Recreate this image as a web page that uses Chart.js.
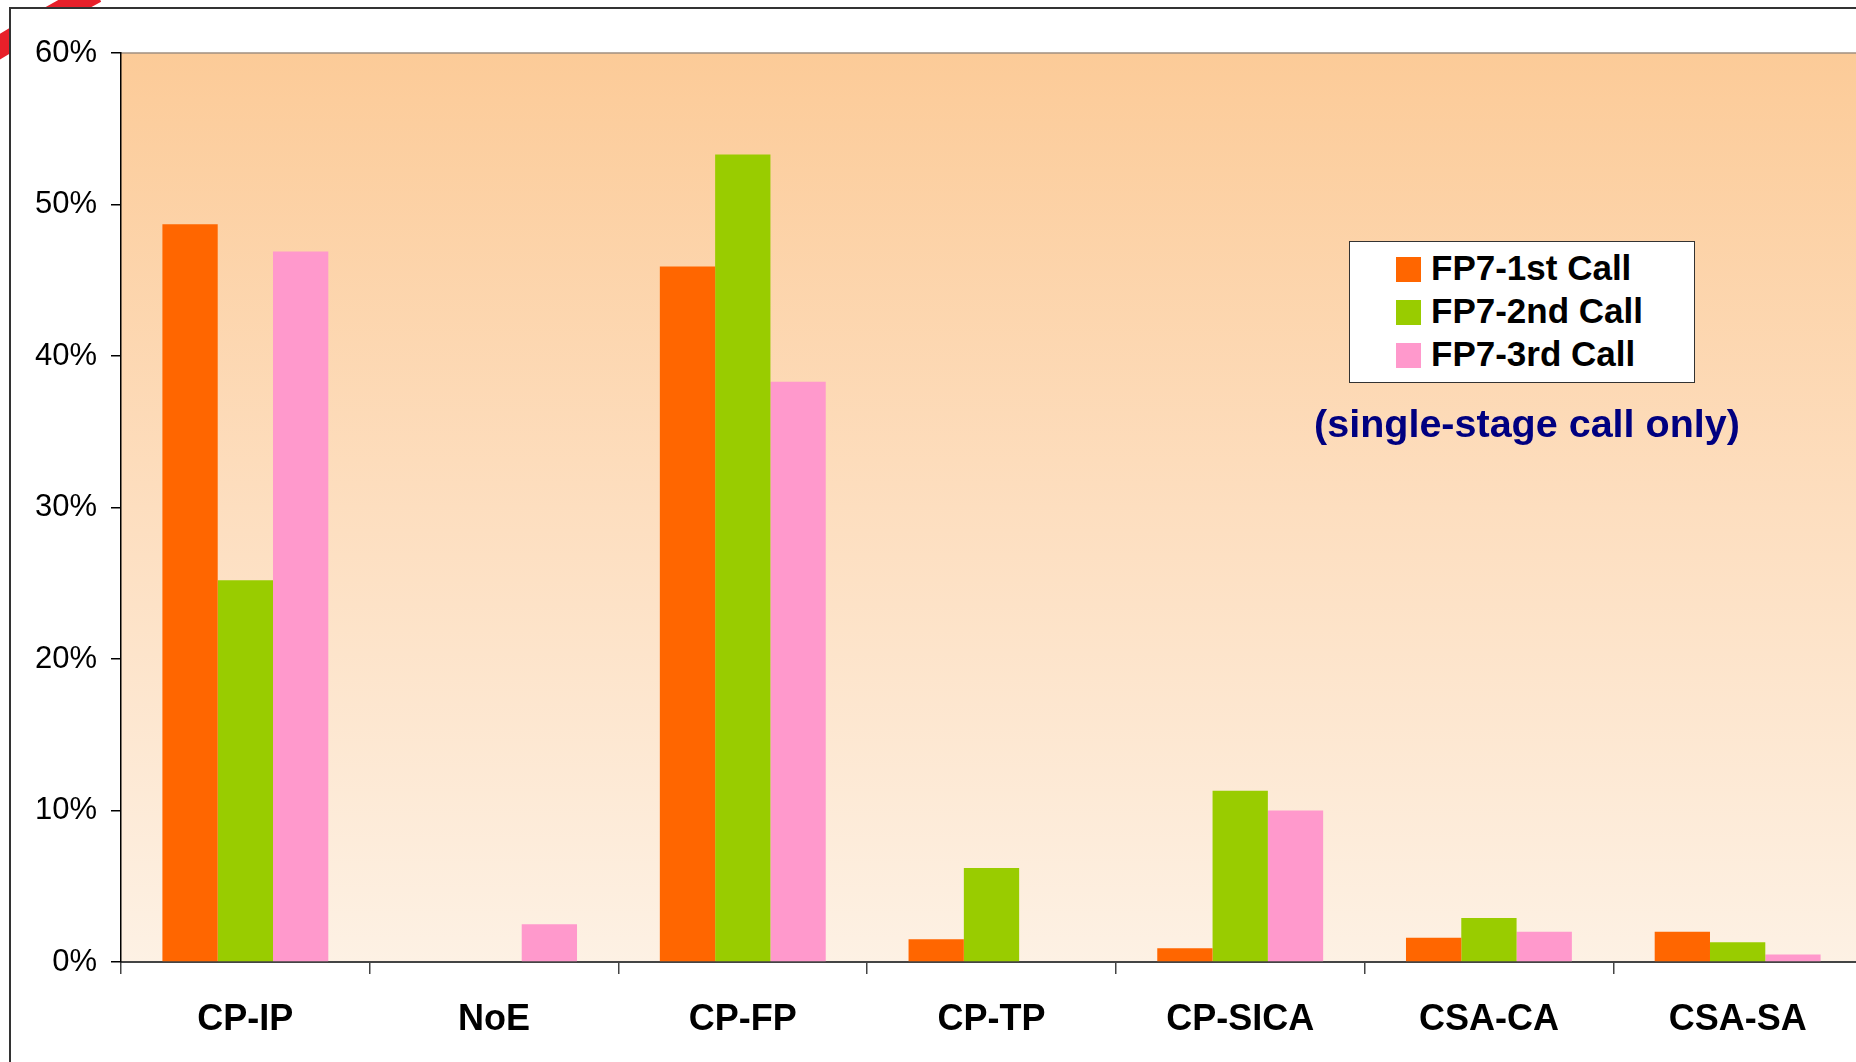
<!DOCTYPE html>
<html>
<head>
  <meta charset="utf-8" />
  <title>FP7 calls - funding scheme share</title>
  <script src="https://cdn.jsdelivr.net/npm/chart.js"></script>
  <style>
    html, body {
      margin: 0;
      padding: 0;
      width: 1856px;
      height: 1062px;
      overflow: hidden;
      background: #ffffff;
      font-family: "Liberation Sans", Arial, sans-serif;
    }
    #corner {
      position: absolute;
      left: 0;
      top: 0;
    }
    #frame {
      position: absolute;
      left: 9px;
      top: 7px;
      width: 1900px;
      height: 1100px;
      background: #ffffff;
      border-left: 2px solid #333;
      border-top: 2px solid #333;
    }
    #chart-wrap {
      position: absolute;
      left: 0;
      top: 0;
      width: 1862px;
      height: 1062px;
    }
    #legend {
      position: absolute;
      left: 1349px;
      top: 241px;
      width: 344px;
      height: 136px;
      background: #ffffff;
      border: 1.5px solid #333;
      padding-top: 4px;
      box-sizing: content-box;
    }
    #legend .item {
      height: 43px;
      line-height: 43px;
      font-weight: bold;
      font-size: 35px;
      color: #000;
      white-space: nowrap;
    }
    #legend .swatch {
      display: inline-block;
      width: 25px;
      height: 25px;
      margin-left: 46px;
      margin-right: 10px;
      vertical-align: -2px;
    }
    #note {
      position: absolute;
      left: 1227px;
      width: 600px;
      top: 401px;
      text-align: center;
      font-weight: bold;
      font-size: 39.5px;
      color: #000080;
      white-space: nowrap;
    }
  </style>
</head>
<body>
  <svg id="corner" width="120" height="80">
    <path d="M -12 54 Q 36 24 96 -8" stroke="#e8202a" stroke-width="22" fill="none" />
  </svg>
  <div id="frame"></div>
  <div id="chart-wrap">
    <canvas id="chart" width="1862" height="1062"></canvas>
  </div>
  <div id="legend"></div>
  <div id="note">(single-stage call only)</div>
  <script>
    // categories and series (percent of proposals)
    const categories = ['CP-IP', 'NoE', 'CP-FP', 'CP-TP', 'CP-SICA', 'CSA-CA', 'CSA-SA'];
    const call1 = [48.7, 0, 45.9, 1.5, 0.9, 1.6, 2.0];
    const call2 = [25.2, 0, 53.3, 6.2, 11.3, 2.9, 1.3];
    const call3 = [46.9, 2.5, 38.3, 0, 10.0, 2.0, 0.5];
    const seriesNames = ['FP7-1st Call', 'FP7-2nd Call', 'FP7-3rd Call'];
    const seriesColors = ['#ff6600', '#99cc00', '#ff99cc'];
    const yTicks = [0, 10, 20, 30, 40, 50, 60];

    const series = [call1, call2, call3];

    // peach gradient behind the bars + top edge of the plot
    const plotBg = {
      id: 'plotBg',
      beforeDraw(chart) {
        const { ctx, chartArea: a } = chart;
        const g = ctx.createLinearGradient(0, a.top, 0, a.bottom);
        g.addColorStop(0, '#fccb98');
        g.addColorStop(0.5, '#fddebf');
        g.addColorStop(1, '#fdf1e4');
        ctx.save();
        ctx.fillStyle = g;
        ctx.fillRect(a.left, a.top, a.right - a.left, a.bottom - a.top);
        ctx.strokeStyle = '#a08f80';
        ctx.lineWidth = 1.5;
        ctx.beginPath();
        ctx.moveTo(a.left, a.top);
        ctx.lineTo(a.right, a.top);
        ctx.stroke();
        ctx.restore();
      }
    };

    const chart = new Chart(document.getElementById('chart'), {
      type: 'bar',
      data: {
        labels: categories,
        datasets: series.map((vals, i) => ({
          label: seriesNames[i],
          data: vals,
          backgroundColor: seriesColors[i],
          borderWidth: 0,
          barPercentage: 1,
          categoryPercentage: 0.667
        }))
      },
      options: {
        responsive: false,
        animation: false,
        layout: { padding: { top: 53, left: 0, right: 0, bottom: 0 } },
        plugins: {
          legend: { display: false },
          tooltip: { enabled: false }
        },
        scales: {
          x: {
            offset: true,
            grid: {
              offset: true,
              drawOnChartArea: false,
              drawTicks: true,
              tickLength: 12,
              color: '#444',
              lineWidth: 1.5
            },
            border: { display: true, color: '#444', width: 2 },
            ticks: {
              color: '#000',
              padding: 24,
              maxRotation: 0,
              font: { family: '"Liberation Sans", Arial, sans-serif', size: 36, weight: 'bold' }
            },
            afterFit(s) { s.height = 100; }
          },
          y: {
            min: 0,
            max: 60,
            afterBuildTicks(s) { s.ticks = yTicks.map(v => ({ value: v })); },
            grid: {
              drawOnChartArea: false,
              drawTicks: true,
              tickLength: 10,
              color: '#000',
              lineWidth: 1.5
            },
            border: { display: true, color: '#000', width: 1.5 },
            ticks: {
              color: '#000',
              padding: 14,
              callback: v => v + '%',
              font: { family: '"Liberation Sans", Arial, sans-serif', size: 31 }
            },
            afterFit(s) { s.width = 121; }
          }
        }
      },
      plugins: [plotBg]
    });

    // legend box built from the chart datasets
    const legend = document.getElementById('legend');
    chart.data.datasets.forEach(ds => {
      const row = document.createElement('div');
      row.className = 'item';
      const sw = document.createElement('span');
      sw.className = 'swatch';
      sw.style.background = ds.backgroundColor;
      row.appendChild(sw);
      row.appendChild(document.createTextNode(ds.label));
      legend.appendChild(row);
    });
  </script>
</body>
</html>
